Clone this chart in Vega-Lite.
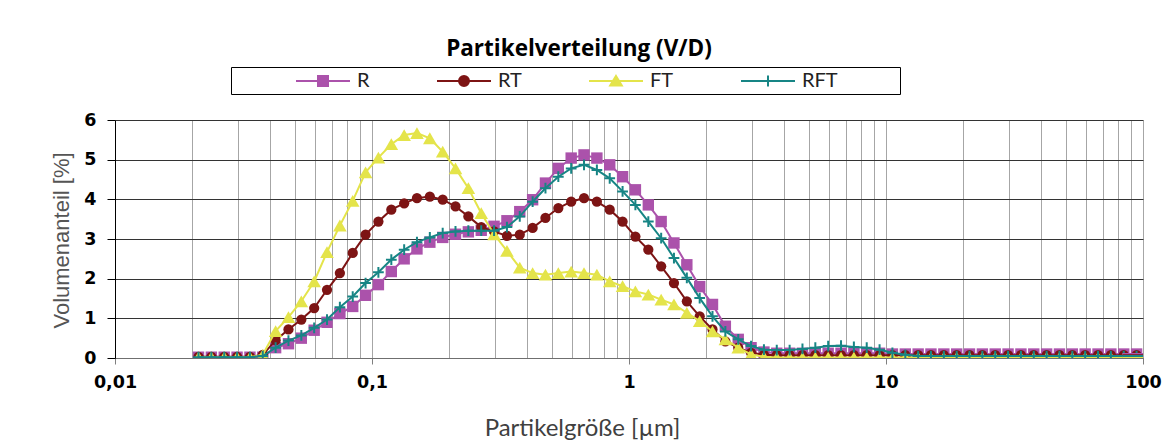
{
  "$schema": "https://vega.github.io/schema/vega-lite/v6.json",
  "width": 1028,
  "height": 238,
  "autosize": {"type": "none"},
  "padding": {"left": 115, "top": 120, "right": 32, "bottom": 88},
  "background": "white",
  "config": {"view": {"stroke": null}},
  "title": {"text": "Partikelverteilung (V/D)", "font": "Open Sans", "fontSize": 22.5, "fontWeight": "bold", "color": "black", "anchor": "middle", "frame": "group", "dx": -50, "offset": -12, "baseline": "alphabetic"},
  "data": {"values": [
    {"s":"R","d":0.02113,"v":0.02},{"s":"R","d":0.02371,"v":0.02},{"s":"R","d":0.02661,"v":0.02},{"s":"R","d":0.02985,"v":0.02},{"s":"R","d":0.0335,"v":0.02},{"s":"R","d":0.03758,"v":0.02},{"s":"R","d":0.04217,"v":0.26},{"s":"R","d":0.04731,"v":0.36},{"s":"R","d":0.05309,"v":0.5},{"s":"R","d":0.05957,"v":0.7},{"s":"R","d":0.06683,"v":0.9},{"s":"R","d":0.07499,"v":1.12},{"s":"R","d":0.08414,"v":1.3},{"s":"R","d":0.09441,"v":1.58},{"s":"R","d":0.1059,"v":1.85},{"s":"R","d":0.1189,"v":2.18},{"s":"R","d":0.1334,"v":2.5},{"s":"R","d":0.1496,"v":2.75},{"s":"R","d":0.1679,"v":2.92},{"s":"R","d":0.1884,"v":3.04},{"s":"R","d":0.2113,"v":3.12},{"s":"R","d":0.2371,"v":3.18},{"s":"R","d":0.2661,"v":3.22},{"s":"R","d":0.2985,"v":3.32},{"s":"R","d":0.335,"v":3.46},{"s":"R","d":0.3758,"v":3.69},{"s":"R","d":0.4217,"v":3.99},{"s":"R","d":0.4731,"v":4.41},{"s":"R","d":0.5309,"v":4.78},{"s":"R","d":0.5957,"v":5.04},{"s":"R","d":0.6683,"v":5.12},{"s":"R","d":0.7499,"v":5.04},{"s":"R","d":0.8414,"v":4.87},{"s":"R","d":0.9441,"v":4.57},{"s":"R","d":1.059,"v":4.24},{"s":"R","d":1.189,"v":3.86},{"s":"R","d":1.334,"v":3.44},{"s":"R","d":1.496,"v":2.9},{"s":"R","d":1.679,"v":2.35},{"s":"R","d":1.884,"v":1.8},{"s":"R","d":2.113,"v":1.35},{"s":"R","d":2.371,"v":0.8},{"s":"R","d":2.661,"v":0.47},{"s":"R","d":2.985,"v":0.26},{"s":"R","d":3.35,"v":0.15},{"s":"R","d":3.758,"v":0.12},{"s":"R","d":4.217,"v":0.12},{"s":"R","d":4.731,"v":0.12},{"s":"R","d":5.309,"v":0.12},{"s":"R","d":5.957,"v":0.12},{"s":"R","d":6.683,"v":0.12},{"s":"R","d":7.499,"v":0.12},{"s":"R","d":8.414,"v":0.12},{"s":"R","d":9.441,"v":0.12},{"s":"R","d":10.59,"v":0.1},{"s":"R","d":11.89,"v":0.1},{"s":"R","d":13.34,"v":0.1},{"s":"R","d":14.96,"v":0.1},{"s":"R","d":16.79,"v":0.1},{"s":"R","d":18.84,"v":0.1},{"s":"R","d":21.13,"v":0.1},{"s":"R","d":23.71,"v":0.1},{"s":"R","d":26.61,"v":0.1},{"s":"R","d":29.85,"v":0.1},{"s":"R","d":33.5,"v":0.1},{"s":"R","d":37.58,"v":0.1},{"s":"R","d":42.17,"v":0.1},{"s":"R","d":47.31,"v":0.1},{"s":"R","d":53.09,"v":0.1},{"s":"R","d":59.57,"v":0.1},{"s":"R","d":66.83,"v":0.1},{"s":"R","d":74.99,"v":0.1},{"s":"R","d":84.14,"v":0.1},{"s":"R","d":94.41,"v":0.1},{"s":"R","d":105.9,"v":0.1},
    {"s":"RT","d":0.02113,"v":0.03},{"s":"RT","d":0.02371,"v":0.03},{"s":"RT","d":0.02661,"v":0.03},{"s":"RT","d":0.02985,"v":0.03},{"s":"RT","d":0.0335,"v":0.03},{"s":"RT","d":0.03758,"v":0.08},{"s":"RT","d":0.04217,"v":0.45},{"s":"RT","d":0.04731,"v":0.72},{"s":"RT","d":0.05309,"v":0.97},{"s":"RT","d":0.05957,"v":1.26},{"s":"RT","d":0.06683,"v":1.72},{"s":"RT","d":0.07499,"v":2.14},{"s":"RT","d":0.08414,"v":2.65},{"s":"RT","d":0.09441,"v":3.11},{"s":"RT","d":0.1059,"v":3.44},{"s":"RT","d":0.1189,"v":3.74},{"s":"RT","d":0.1334,"v":3.9},{"s":"RT","d":0.1496,"v":4.03},{"s":"RT","d":0.1679,"v":4.07},{"s":"RT","d":0.1884,"v":3.99},{"s":"RT","d":0.2113,"v":3.82},{"s":"RT","d":0.2371,"v":3.57},{"s":"RT","d":0.2661,"v":3.3},{"s":"RT","d":0.2985,"v":3.19},{"s":"RT","d":0.335,"v":3.08},{"s":"RT","d":0.3758,"v":3.11},{"s":"RT","d":0.4217,"v":3.28},{"s":"RT","d":0.4731,"v":3.53},{"s":"RT","d":0.5309,"v":3.78},{"s":"RT","d":0.5957,"v":3.94},{"s":"RT","d":0.6683,"v":4.03},{"s":"RT","d":0.7499,"v":3.94},{"s":"RT","d":0.8414,"v":3.74},{"s":"RT","d":0.9441,"v":3.44},{"s":"RT","d":1.059,"v":3.06},{"s":"RT","d":1.189,"v":2.73},{"s":"RT","d":1.334,"v":2.31},{"s":"RT","d":1.496,"v":1.89},{"s":"RT","d":1.679,"v":1.43},{"s":"RT","d":1.884,"v":1.05},{"s":"RT","d":2.113,"v":0.72},{"s":"RT","d":2.371,"v":0.42},{"s":"RT","d":2.661,"v":0.26},{"s":"RT","d":2.985,"v":0.13},{"s":"RT","d":3.35,"v":0.08},{"s":"RT","d":3.758,"v":0.07},{"s":"RT","d":4.217,"v":0.07},{"s":"RT","d":4.731,"v":0.07},{"s":"RT","d":5.309,"v":0.07},{"s":"RT","d":5.957,"v":0.07},{"s":"RT","d":6.683,"v":0.07},{"s":"RT","d":7.499,"v":0.07},{"s":"RT","d":8.414,"v":0.07},{"s":"RT","d":9.441,"v":0.07},{"s":"RT","d":10.59,"v":0.07},{"s":"RT","d":11.89,"v":0.07},{"s":"RT","d":13.34,"v":0.07},{"s":"RT","d":14.96,"v":0.07},{"s":"RT","d":16.79,"v":0.07},{"s":"RT","d":18.84,"v":0.07},{"s":"RT","d":21.13,"v":0.07},{"s":"RT","d":23.71,"v":0.07},{"s":"RT","d":26.61,"v":0.07},{"s":"RT","d":29.85,"v":0.07},{"s":"RT","d":33.5,"v":0.07},{"s":"RT","d":37.58,"v":0.07},{"s":"RT","d":42.17,"v":0.07},{"s":"RT","d":47.31,"v":0.07},{"s":"RT","d":53.09,"v":0.07},{"s":"RT","d":59.57,"v":0.07},{"s":"RT","d":66.83,"v":0.07},{"s":"RT","d":74.99,"v":0.07},{"s":"RT","d":84.14,"v":0.07},{"s":"RT","d":94.41,"v":0.07},{"s":"RT","d":105.9,"v":0.07},
    {"s":"FT","d":0.02113,"v":0.02},{"s":"FT","d":0.02371,"v":0.02},{"s":"FT","d":0.02661,"v":0.02},{"s":"FT","d":0.02985,"v":0.02},{"s":"FT","d":0.0335,"v":0.02},{"s":"FT","d":0.03758,"v":0.08},{"s":"FT","d":0.04217,"v":0.68},{"s":"FT","d":0.04731,"v":1.03},{"s":"FT","d":0.05309,"v":1.43},{"s":"FT","d":0.05957,"v":1.93},{"s":"FT","d":0.06683,"v":2.67},{"s":"FT","d":0.07499,"v":3.34},{"s":"FT","d":0.08414,"v":3.96},{"s":"FT","d":0.09441,"v":4.68},{"s":"FT","d":0.1059,"v":5.05},{"s":"FT","d":0.1189,"v":5.39},{"s":"FT","d":0.1334,"v":5.62},{"s":"FT","d":0.1496,"v":5.67},{"s":"FT","d":0.1679,"v":5.54},{"s":"FT","d":0.1884,"v":5.2},{"s":"FT","d":0.2113,"v":4.78},{"s":"FT","d":0.2371,"v":4.28},{"s":"FT","d":0.2661,"v":3.65},{"s":"FT","d":0.2985,"v":3.12},{"s":"FT","d":0.335,"v":2.7},{"s":"FT","d":0.3758,"v":2.28},{"s":"FT","d":0.4217,"v":2.14},{"s":"FT","d":0.4731,"v":2.1},{"s":"FT","d":0.5309,"v":2.14},{"s":"FT","d":0.5957,"v":2.18},{"s":"FT","d":0.6683,"v":2.14},{"s":"FT","d":0.7499,"v":2.1},{"s":"FT","d":0.8414,"v":1.93},{"s":"FT","d":0.9441,"v":1.81},{"s":"FT","d":1.059,"v":1.68},{"s":"FT","d":1.189,"v":1.6},{"s":"FT","d":1.334,"v":1.47},{"s":"FT","d":1.496,"v":1.35},{"s":"FT","d":1.679,"v":1.14},{"s":"FT","d":1.884,"v":0.93},{"s":"FT","d":2.113,"v":0.67},{"s":"FT","d":2.371,"v":0.47},{"s":"FT","d":2.661,"v":0.26},{"s":"FT","d":2.985,"v":0.09},{"s":"FT","d":3.35,"v":0.03},{"s":"FT","d":3.758,"v":0.01},{"s":"FT","d":4.217,"v":0.01},{"s":"FT","d":4.731,"v":0.01},{"s":"FT","d":5.309,"v":0.01},{"s":"FT","d":5.957,"v":0.01},{"s":"FT","d":6.683,"v":0.01},{"s":"FT","d":7.499,"v":0.01},{"s":"FT","d":8.414,"v":0.01},{"s":"FT","d":9.441,"v":0.01},{"s":"FT","d":10.59,"v":0.01},{"s":"FT","d":11.89,"v":0.01},{"s":"FT","d":13.34,"v":0.01},{"s":"FT","d":14.96,"v":0.01},{"s":"FT","d":16.79,"v":0.01},{"s":"FT","d":18.84,"v":0.01},{"s":"FT","d":21.13,"v":0.01},{"s":"FT","d":23.71,"v":0.01},{"s":"FT","d":26.61,"v":0.01},{"s":"FT","d":29.85,"v":0.01},{"s":"FT","d":33.5,"v":0.01},{"s":"FT","d":37.58,"v":0.01},{"s":"FT","d":42.17,"v":0.01},{"s":"FT","d":47.31,"v":0.01},{"s":"FT","d":53.09,"v":0.01},{"s":"FT","d":59.57,"v":0.01},{"s":"FT","d":66.83,"v":0.01},{"s":"FT","d":74.99,"v":0.01},{"s":"FT","d":84.14,"v":0.01},{"s":"FT","d":94.41,"v":0.01},{"s":"FT","d":105.9,"v":0.01},
    {"s":"RFT","d":0.02113,"v":0.02},{"s":"RFT","d":0.02371,"v":0.02},{"s":"RFT","d":0.02661,"v":0.02},{"s":"RFT","d":0.02985,"v":0.02},{"s":"RFT","d":0.0335,"v":0.02},{"s":"RFT","d":0.03758,"v":0.05},{"s":"RFT","d":0.04217,"v":0.26},{"s":"RFT","d":0.04731,"v":0.44},{"s":"RFT","d":0.05309,"v":0.57},{"s":"RFT","d":0.05957,"v":0.76},{"s":"RFT","d":0.06683,"v":0.97},{"s":"RFT","d":0.07499,"v":1.28},{"s":"RFT","d":0.08414,"v":1.55},{"s":"RFT","d":0.09441,"v":1.89},{"s":"RFT","d":0.1059,"v":2.16},{"s":"RFT","d":0.1189,"v":2.48},{"s":"RFT","d":0.1334,"v":2.73},{"s":"RFT","d":0.1496,"v":2.92},{"s":"RFT","d":0.1679,"v":3.04},{"s":"RFT","d":0.1884,"v":3.15},{"s":"RFT","d":0.2113,"v":3.19},{"s":"RFT","d":0.2371,"v":3.21},{"s":"RFT","d":0.2661,"v":3.21},{"s":"RFT","d":0.2985,"v":3.21},{"s":"RFT","d":0.335,"v":3.3},{"s":"RFT","d":0.3758,"v":3.57},{"s":"RFT","d":0.4217,"v":3.94},{"s":"RFT","d":0.4731,"v":4.28},{"s":"RFT","d":0.5309,"v":4.57},{"s":"RFT","d":0.5957,"v":4.78},{"s":"RFT","d":0.6683,"v":4.87},{"s":"RFT","d":0.7499,"v":4.74},{"s":"RFT","d":0.8414,"v":4.53},{"s":"RFT","d":0.9441,"v":4.2},{"s":"RFT","d":1.059,"v":3.86},{"s":"RFT","d":1.189,"v":3.44},{"s":"RFT","d":1.334,"v":3.02},{"s":"RFT","d":1.496,"v":2.52},{"s":"RFT","d":1.679,"v":2.02},{"s":"RFT","d":1.884,"v":1.51},{"s":"RFT","d":2.113,"v":1.05},{"s":"RFT","d":2.371,"v":0.67},{"s":"RFT","d":2.661,"v":0.47},{"s":"RFT","d":2.985,"v":0.3},{"s":"RFT","d":3.35,"v":0.21},{"s":"RFT","d":3.758,"v":0.2},{"s":"RFT","d":4.217,"v":0.2},{"s":"RFT","d":4.731,"v":0.23},{"s":"RFT","d":5.309,"v":0.26},{"s":"RFT","d":5.957,"v":0.3},{"s":"RFT","d":6.683,"v":0.31},{"s":"RFT","d":7.499,"v":0.28},{"s":"RFT","d":8.414,"v":0.26},{"s":"RFT","d":9.441,"v":0.21},{"s":"RFT","d":10.59,"v":0.13},{"s":"RFT","d":11.89,"v":0.08},{"s":"RFT","d":13.34,"v":0.05},{"s":"RFT","d":14.96,"v":0.05},{"s":"RFT","d":16.79,"v":0.05},{"s":"RFT","d":18.84,"v":0.05},{"s":"RFT","d":21.13,"v":0.05},{"s":"RFT","d":23.71,"v":0.05},{"s":"RFT","d":26.61,"v":0.05},{"s":"RFT","d":29.85,"v":0.05},{"s":"RFT","d":33.5,"v":0.05},{"s":"RFT","d":37.58,"v":0.05},{"s":"RFT","d":42.17,"v":0.05},{"s":"RFT","d":47.31,"v":0.05},{"s":"RFT","d":53.09,"v":0.05},{"s":"RFT","d":59.57,"v":0.05},{"s":"RFT","d":66.83,"v":0.05},{"s":"RFT","d":74.99,"v":0.05},{"s":"RFT","d":84.14,"v":0.05},{"s":"RFT","d":94.41,"v":0.05},{"s":"RFT","d":105.9,"v":0.05}
  ]},
  "encoding": {
    "x": {
      "field": "d", "type": "quantitative",
      "scale": {"type": "log", "domain": [0.01, 100], "nice": false},
      "axis": {
        "values": [0.01,0.02,0.03,0.04,0.05,0.06,0.07,0.08,0.09,0.1,0.2,0.3,0.4,0.5,0.6,0.7,0.8,0.9,1,2,3,4,5,6,7,8,9,10,20,30,40,50,60,70,80,90,100],
        "labelExpr": "datum.value == 0.01 ? '0,01' : datum.value == 0.1 ? '0,1' : datum.value == 1 ? '1' : datum.value == 10 ? '10' : datum.value == 100 ? '100' : ''",
        "grid": true, "gridColor": "#a6a6a6", "gridWidth": 1,
        "domainColor": "#6f6f6f", "domainWidth": 1,
        "ticks": true, "tickSize": 6, "tickColor": "#7f7f7f",
        "tickOpacity": {"condition": {"test": "indexof([0.01,0.1,1,10,100], datum.value) >= 0", "value": 1}, "value": 0},
        "labelFont": "DejaVu Sans", "labelFontWeight": "bold", "labelFontSize": 17.5, "labelColor": "black",
        "labelPadding": 9, "labelFlush": false, "labelOverlap": false, "labelBound": false,
        "title": "Partikelgröße [µm]", "titleFont": "Lato", "titleFontSize": 24, "titleFontWeight": "normal", "titleColor": "#404040",
        "titleX": 467, "titleY": 77, "titleBaseline": "alphabetic", "titleAlign": "center"
      }
    },
    "y": {
      "field": "v", "type": "quantitative",
      "scale": {"domain": [0, 6], "nice": false, "zero": true},
      "axis": {
        "values": [0,1,2,3,4,5,6],
        "grid": true, "gridColor": "#333333", "gridWidth": 1,
        "domainColor": "black", "domainWidth": 1,
        "tickSize": 8, "tickColor": "black",
        "labelFont": "DejaVu Sans", "labelFontWeight": "bold", "labelFontSize": 17.5, "labelColor": "black", "labelPadding": 11,
        "title": "Volumenanteil [%]", "titleFont": "Liberation Sans", "titleFontSize": 22, "titleFontWeight": "normal", "titleColor": "#555555",
        "titleX": -47, "titleY": 120, "titleBaseline": "alphabetic", "titleAlign": "center", "titleAngle": -90
      }
    },
    "color": {
      "field": "s", "type": "nominal",
      "scale": {"domain": ["RFT", "FT", "RT", "R"], "range": ["#178585", "#e4e44a", "#7d1414", "#ab52ab"]},
      "legend": null
    }
  },
  "layer": [
    {"transform": [{"filter": "datum.s == 'R'"}], "mark": {"type": "line", "strokeWidth": 2, "clip": true}},
    {"transform": [{"filter": "datum.s == 'R'"}], "mark": {"type": "point", "shape": "square", "filled": true, "size": 130, "opacity": 1, "clip": true}},
    {"transform": [{"filter": "datum.s == 'RT'"}], "mark": {"type": "line", "strokeWidth": 2, "clip": true}},
    {"transform": [{"filter": "datum.s == 'RT'"}], "mark": {"type": "point", "shape": "circle", "filled": true, "size": 105, "opacity": 1, "clip": true}},
    {"transform": [{"filter": "datum.s == 'FT'"}], "mark": {"type": "line", "strokeWidth": 2, "clip": true}},
    {"transform": [{"filter": "datum.s == 'FT'"}], "mark": {"type": "point", "shape": "triangle-up", "filled": true, "size": 185, "opacity": 1, "clip": true}},
    {"transform": [{"filter": "datum.s == 'RFT'"}], "mark": {"type": "line", "strokeWidth": 2, "clip": true}},
    {"transform": [{"filter": "datum.s == 'RFT'"}], "mark": {"type": "point", "shape": "M-1,0H1M0,-1V1", "filled": false, "strokeWidth": 2, "size": 115, "opacity": 1, "clip": true}},
    {
      "transform": [{"filter": "datum.d > 100"}],
      "mark": {"type": "point", "filled": true, "strokeWidth": 2, "size": 400, "opacity": 1, "clip": true},
      "encoding": {
        "fill": {"field": "s", "type": "nominal",
          "scale": {"domain": ["R", "RT", "FT", "RFT"], "range": ["#ab52ab", "#7d1414", "#e4e44a", "#178585"]},
          "legend": {"orient": "none", "legendX": 116, "legendY": -53, "direction": "horizontal", "columns": 4, "gridAlign": "each", "title": "\u00a0", "titleOrient": "left", "titlePadding": 62, "titleFontSize": 10, "padding": 3, "strokeColor": "black", "fillColor": "white", "symbolSize": 400, "symbolOffset": 16, "symbolStrokeWidth": 2, "labelOffset": 23, "columnPadding": 63, "labelFont": "Lato", "labelFontSize": 20, "labelColor": "#222222"}},
        "stroke": {"field": "s", "type": "nominal",
          "scale": {"domain": ["R", "RT", "FT", "RFT"], "range": ["#ab52ab", "#7d1414", "#e4e44a", "#178585"]},
          "legend": {"orient": "none", "legendX": 116, "legendY": -53, "direction": "horizontal", "columns": 4, "gridAlign": "each", "title": "\u00a0", "titleOrient": "left", "titlePadding": 62, "titleFontSize": 10, "padding": 3, "strokeColor": "black", "fillColor": "white", "symbolSize": 400, "symbolOffset": 16, "symbolStrokeWidth": 2, "labelOffset": 23, "columnPadding": 63, "labelFont": "Lato", "labelFontSize": 20, "labelColor": "#222222"}},
        "shape": {"field": "s", "type": "nominal",
          "scale": {"domain": ["R", "RT", "FT", "RFT"], "range": ["M-2.7,0H2.7M-0.5,-0.5H0.5V0.5H-0.5Z", "M-2.7,0H2.7M-0.5,0A0.5,0.5,0,1,1,0.5,0A0.5,0.5,0,1,1,-0.5,0Z", "M-2.7,0H2.7M0,-0.5L0.58,0.45H-0.58Z", "M-2.7,0H2.7M-0.5,0H0.5M0,-0.55V0.55M12.5,0L12.5,0"]},
          "legend": {"orient": "none", "legendX": 116, "legendY": -53, "direction": "horizontal", "columns": 4, "gridAlign": "each", "title": "\u00a0", "titleOrient": "left", "titlePadding": 62, "titleFontSize": 10, "padding": 3, "strokeColor": "black", "fillColor": "white", "symbolSize": 400, "symbolOffset": 16, "symbolStrokeWidth": 2, "labelOffset": 23, "columnPadding": 63, "labelFont": "Lato", "labelFontSize": 20, "labelColor": "#222222"}}
      }
    }
  ]
}
